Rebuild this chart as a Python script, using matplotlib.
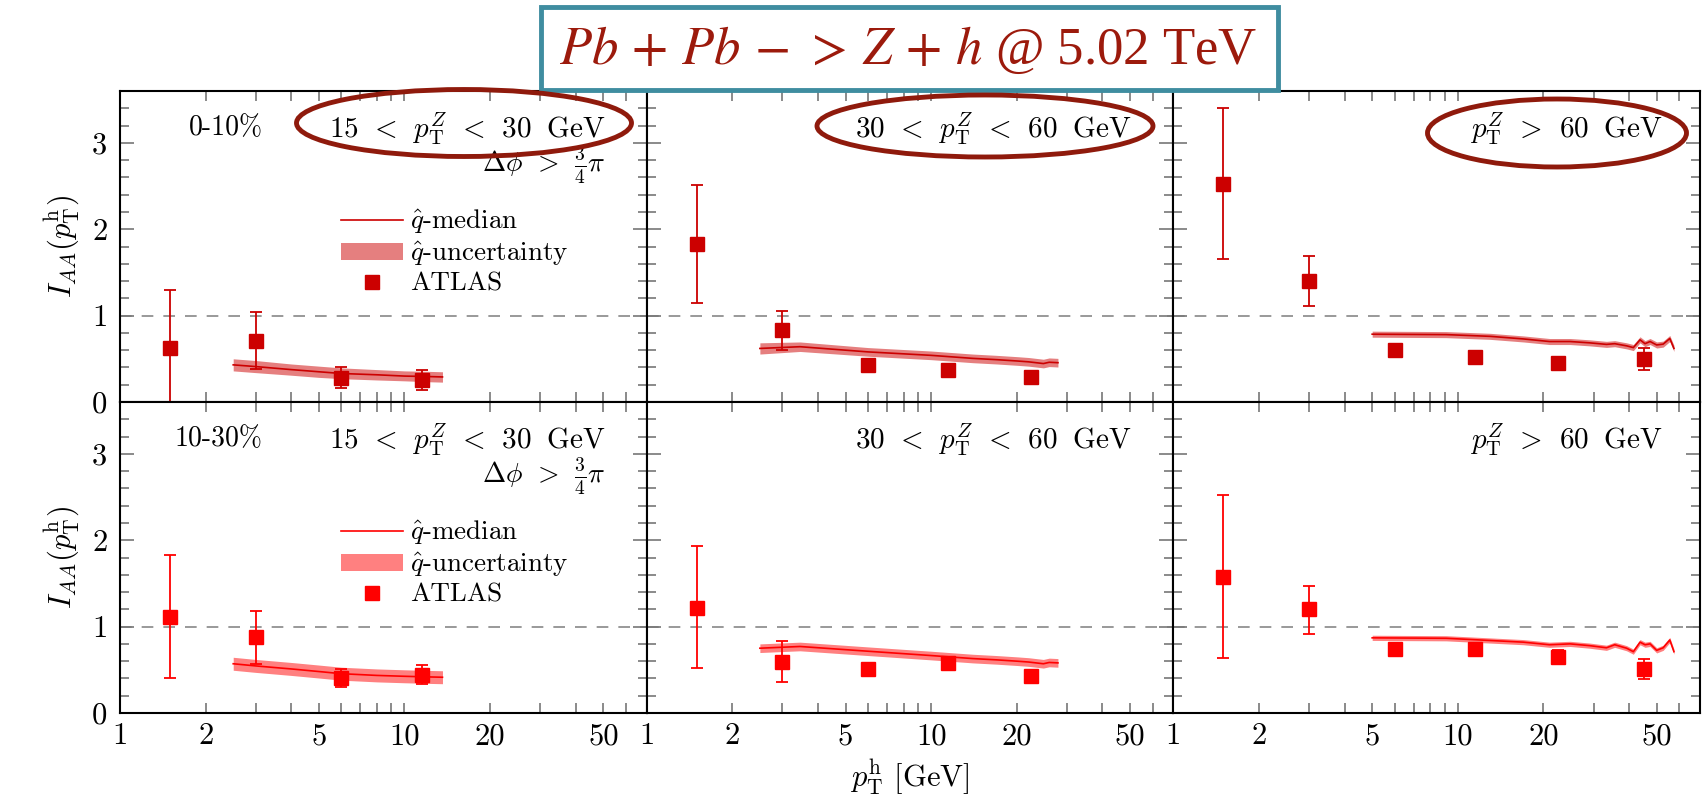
import numpy as np
import matplotlib
matplotlib.use("Agg")
import matplotlib.pyplot as plt
from matplotlib.patches import Ellipse, Rectangle
from matplotlib.ticker import FixedLocator, NullFormatter

plt.rcParams['font.family'] = 'serif'
plt.rcParams['font.serif'] = ['cmr10']
plt.rcParams['mathtext.fontset'] = 'cm'
plt.rcParams['axes.formatter.use_mathtext'] = True
plt.rcParams['axes.unicode_minus'] = False

# ATLAS bin centres in pT^h [GeV]
atlas_x = [1.5, 3.0, 6.0, 11.5, 22.5, 45.0]

# ---- 0-10% (top row) ----
atlas_y_c0 = [[0.62, 0.71, 0.28, 0.25],
              [1.83, 0.83, 0.43, 0.37, 0.295],
              [2.52, 1.40, 0.60, 0.52, 0.455, 0.50]]
atlas_lo_c0 = [[0.0, 0.38, 0.16, 0.14],
               [1.15, 0.60, 0.39, 0.34, 0.26],
               [1.65, 1.11, 0.56, 0.50, 0.43, 0.37]]
atlas_hi_c0 = [[1.30, 1.04, 0.41, 0.37],
               [2.51, 1.05, 0.47, 0.40, 0.33],
               [3.40, 1.69, 0.64, 0.54, 0.48, 0.63]]

# ---- 10-30% (bottom row) ----
atlas_y_c1 = [[1.11, 0.88, 0.41, 0.445],
              [1.22, 0.59, 0.51, 0.58, 0.425],
              [1.58, 1.20, 0.745, 0.745, 0.65, 0.51]]
atlas_lo_c1 = [[0.40, 0.57, 0.30, 0.34],
               [0.52, 0.36, 0.49, 0.56, 0.36],
               [0.64, 0.92, 0.71, 0.71, 0.57, 0.395]]
atlas_hi_c1 = [[1.83, 1.18, 0.515, 0.55],
               [1.93, 0.83, 0.53, 0.60, 0.50],
               [2.52, 1.47, 0.78, 0.78, 0.73, 0.62]]

# model (q-hat) curves per pT^Z bin
model_x = [[2.5, 3.0, 4.0, 5.0, 6.0, 8.0, 10.0, 12.0, 13.6],
           [2.5, 3.46, 6.0, 10.0, 14.0, 17.0, 20.0, 22.0, 24.8, 26.0, 27.9],
           [5.0, 9.1, 13.0, 17.0, 21.0, 24.8, 29.0, 33.3, 35.6, 39.2, 41.4, 43.7, 45.5, 47.4, 50.0, 52.7, 55.6, 57.5]]

med_c0 = [[0.43, 0.41, 0.375, 0.35, 0.33, 0.315, 0.30, 0.295, 0.29],
          [0.62, 0.64, 0.58, 0.54, 0.505, 0.49, 0.475, 0.465, 0.445, 0.46, 0.455],
          [0.785, 0.78, 0.76, 0.73, 0.70, 0.70, 0.685, 0.667, 0.675, 0.65, 0.63, 0.72, 0.675, 0.70, 0.66, 0.67, 0.735, 0.62]]
band_lo_c0 = [[0.36, 0.34, 0.31, 0.285, 0.27, 0.255, 0.245, 0.235, 0.23],
              [0.555, 0.585, 0.53, 0.49, 0.455, 0.44, 0.425, 0.415, 0.395, 0.41, 0.405],
              [0.75, 0.745, 0.725, 0.695, 0.665, 0.665, 0.65, 0.632, 0.64, 0.615, 0.595, 0.685, 0.64, 0.665, 0.625, 0.635, 0.70, 0.585]]
band_hi_c0 = [[0.50, 0.48, 0.44, 0.415, 0.395, 0.375, 0.36, 0.355, 0.35],
              [0.685, 0.695, 0.63, 0.59, 0.555, 0.54, 0.525, 0.515, 0.495, 0.51, 0.505],
              [0.82, 0.815, 0.795, 0.765, 0.735, 0.735, 0.72, 0.702, 0.71, 0.685, 0.665, 0.755, 0.71, 0.735, 0.695, 0.705, 0.77, 0.655]]

model_x_c1 = [[2.5, 3.0, 4.0, 5.0, 6.0, 8.0, 10.0, 12.0, 13.6],
              [2.5, 3.46, 6.0, 10.0, 14.0, 17.0, 20.0, 22.0, 24.8, 26.0, 27.9],
              [5.0, 9.1, 17.0, 21.0, 24.8, 29.0, 33.3, 35.6, 39.2, 41.4, 43.7, 45.5, 47.4, 50.0, 52.7, 55.6, 57.5]]
med_c1 = [[0.57, 0.545, 0.51, 0.48, 0.455, 0.435, 0.425, 0.418, 0.414],
          [0.75, 0.77, 0.715, 0.665, 0.63, 0.615, 0.60, 0.59, 0.57, 0.585, 0.58],
          [0.87, 0.865, 0.82, 0.79, 0.80, 0.78, 0.755, 0.79, 0.75, 0.71, 0.82, 0.79, 0.80, 0.725, 0.755, 0.845, 0.71]]
band_lo_c1 = [[0.495, 0.47, 0.435, 0.405, 0.38, 0.36, 0.35, 0.343, 0.339],
              [0.70, 0.72, 0.665, 0.615, 0.58, 0.565, 0.55, 0.54, 0.52, 0.535, 0.53],
              [0.84, 0.835, 0.79, 0.76, 0.77, 0.75, 0.725, 0.76, 0.72, 0.68, 0.79, 0.76, 0.77, 0.695, 0.725, 0.815, 0.68]]
band_hi_c1 = [[0.645, 0.62, 0.585, 0.555, 0.53, 0.51, 0.50, 0.493, 0.489],
              [0.80, 0.82, 0.765, 0.715, 0.68, 0.665, 0.65, 0.64, 0.62, 0.635, 0.63],
              [0.90, 0.895, 0.85, 0.82, 0.83, 0.81, 0.785, 0.82, 0.78, 0.74, 0.85, 0.82, 0.83, 0.755, 0.785, 0.875, 0.74]]

centrality_labels = ['0-10%', '10-30%']
ptz_labels = [r'$15\;\,<\;\,p_{\mathrm{T}}^{Z}\;\,<\;\,30\ \;\mathrm{GeV}$',
              r'$30\;\,<\;\,p_{\mathrm{T}}^{Z}\;\,<\;\,60\ \;\mathrm{GeV}$',
              r'$p_{\mathrm{T}}^{Z}\;\,>\;\,60\ \;\mathrm{GeV}$']
dphi_label = r'$\Delta\phi\;\,>\;\,\frac{3}{4}\pi$'

xtick_major = [1, 2, 5, 10, 20, 50]
xtick_minor = [3, 4, 6, 7, 8, 9, 30, 40, 60]

rows = [
    dict(y=atlas_y_c0, lo=atlas_lo_c0, hi=atlas_hi_c0, mx=model_x, med=med_c0,
         blo=band_lo_c0, bhi=band_hi_c0, col='#cc0000', band='#e57f7f'),
    dict(y=atlas_y_c1, lo=atlas_lo_c1, hi=atlas_hi_c1, mx=model_x_c1, med=med_c1,
         blo=band_lo_c1, bhi=band_hi_c1, col='#ff0000', band='#ff8080'),
]

W, H = 1706, 795
fig, axes = plt.subplots(2, 3, figsize=(W / 100, H / 100), dpi=100, sharex=True, sharey=True)
fig.subplots_adjust(left=120 / W, right=1700 / W, top=1 - 91 / H, bottom=1 - 713 / H,
                    wspace=0, hspace=0)

text_right = [0.923, 0.921, 0.93]

for r, row in enumerate(rows):
    for c in range(3):
        ax = axes[r, c]
        ax.axhline(1, color='#888888', lw=1.2, dashes=(7, 6), zorder=1)
        band = ax.fill_between(row['mx'][c], row['blo'][c], row['bhi'][c],
                               color=row['band'], lw=0, zorder=2)
        line, = ax.plot(row['mx'][c], row['med'][c], color=row['col'], lw=1.2, zorder=3)
        y = np.array(row['y'][c])
        lo = np.array(row['lo'][c])
        hi = np.array(row['hi'][c])
        xs = atlas_x[:len(y)]
        eb = ax.errorbar(xs, y, yerr=[y - lo, hi - y], fmt='s', ms=9.5, color=row['col'],
                         ecolor=row['col'], elinewidth=1.3, capsize=4.5, capthick=1.3, zorder=4)

        ax.text(text_right[c], 0.85, ptz_labels[c], transform=ax.transAxes,
                ha='right', va='baseline', fontsize=21)
        if c == 0:
            ax.text(0.271, 0.858, centrality_labels[r], transform=ax.transAxes,
                    ha='right', va='baseline', fontsize=20)
            ax.text(0.923, 0.74, dphi_label, transform=ax.transAxes,
                    ha='right', va='baseline', fontsize=20)
            ax.legend([line, band, eb[0]],
                      [r'$\hat{q}$-median', r'$\hat{q}$-uncertainty', 'ATLAS'],
                      loc='center left', bbox_to_anchor=(0.42, 0.484), borderaxespad=0,
                      frameon=False, fontsize=19.5, handlelength=2.3, handleheight=0.55,
                      handletextpad=0.25, labelspacing=0.15, borderpad=0, numpoints=1)

        ax.set_xscale('log')
        ax.set_xlim(1, 71)
        ax.set_ylim(0, 3.6)
        ax.xaxis.set_major_locator(FixedLocator(xtick_major))
        ax.xaxis.set_minor_locator(FixedLocator(xtick_minor))
        ax.xaxis.set_minor_formatter(NullFormatter())
        ax.set_xticklabels([str(t) for t in xtick_major])
        ax.yaxis.set_major_locator(FixedLocator([0, 1, 2, 3]))
        ax.yaxis.set_minor_locator(FixedLocator(np.arange(0.2, 3.6, 0.2)))
        ax.set_yticklabels(['0', '1', '2', '3'])
        ax.tick_params(which='both', direction='in', top=True, right=True,
                       color='#777777', width=1.2, labelsize=22)
        ax.tick_params(axis='x', which='both', length=7, pad=7)
        ax.tick_params(axis='y', which='major', length=10, pad=9)
        ax.tick_params(axis='y', which='minor', length=6.5)
        for s in ax.spines.values():
            s.set_linewidth(1.5)
            s.set_color('black')

for r in range(2):
    axes[r, 0].set_ylabel(r'$I_{AA}(p_{\mathrm{T}}^{\mathrm{h}})$', fontsize=22, labelpad=8)

fig.text(910 / W, 1 - 777 / H, r'$p_{\mathrm{T}}^{\mathrm{h}}$ [GeV]', fontsize=22,
         ha='center', va='center')

# slide annotations: title box and ellipses
fig.add_artist(Rectangle((541 / W, 1 - 90 / H), (1278 - 541) / W, (90 - 7) / H,
                         transform=fig.transFigure, facecolor='white',
                         edgecolor='#3f8da0', lw=3.5, zorder=10))
fig.text(908 / W, 1 - 50 / H, r'$Pb\,+\,Pb\,-\,>\,Z\,+\,h$ @ 5.02 TeV',
         family=['Liberation Serif', 'DejaVu Serif'], math_fontfamily='stix', fontsize=38,
         color='#9c1a0c', ha='center', va='center', zorder=11)

ellipses = [(464, 123, 335, 67), (985, 126, 336, 62), (1557, 133, 259, 68)]
for ex, ey, ew, eh in ellipses:
    fig.add_artist(Ellipse((ex / W, 1 - ey / H), ew / W, eh / H, transform=fig.transFigure,
                           fill=False, edgecolor='#8f1a0c', lw=3.5, zorder=10))

plt.savefig('out.png', dpi=100)
